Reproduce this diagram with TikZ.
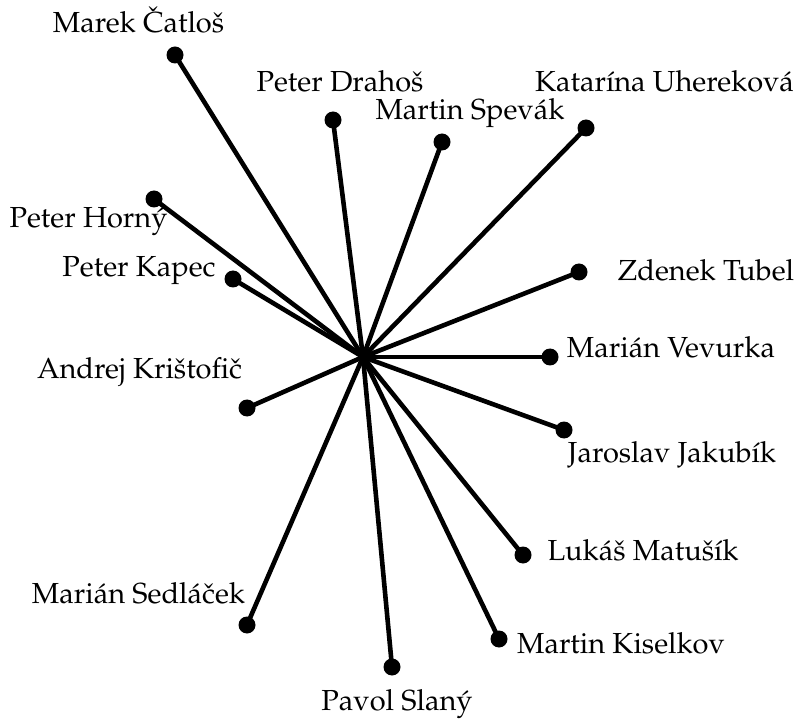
\documentclass[tikz,border=0pt]{standalone}
\usepackage[T1]{fontenc}
\usepackage{mathpazo}
\begin{document}
\begin{tikzpicture}[x=1pt,y=-1pt,
  edge/.style={line width=4.6pt},
  dot/.style={circle,fill=black,inner sep=0pt,minimum size=17pt},
  personlabel/.style={anchor=base,inner sep=0pt,font=\fontsize{29}{33}\selectfont}]
\useasboundingbox (0,0) rectangle (801,719);
\coordinate (c) at (363,357);
% endpoints
\node[dot] (catlos)   at (175,55)  {};
\node[dot] (drahos)   at (333,120) {};
\node[dot] (spevak)   at (442,142) {};
\node[dot] (uherek)   at (586,128) {};
\node[dot] (tubel)    at (579,272) {};
\node[dot] (vevurka)  at (550,357) {};
\node[dot] (jakubik)  at (564,430) {};
\node[dot] (matusik)  at (523,555) {};
\node[dot] (kiselkov) at (499,639) {};
\node[dot] (slany)    at (392,667) {};
\node[dot] (sedlacek) at (247,625) {};
\node[dot] (kristof)  at (247,408) {};
\node[dot] (kapec)    at (233,279) {};
\node[dot] (horny)    at (154,199) {};
% spokes
\foreach \n in {catlos,drahos,spevak,uherek,tubel,vevurka,jakubik,matusik,kiselkov,slany,sedlacek,kristof,kapec,horny}
  \draw[edge] (c) -- (\n.center);
% labels
\node[personlabel] (l1)  at (138.5,33)  {Marek \v{C}atlo\v{s}};
\node[personlabel] (l2)  at (340,92)    {Peter Draho\v{s}};
\node[personlabel] (l3)  at (470,120)   {Martin Spev\'ak};
\node[personlabel] (l4)  at (664.5,92)  {Katar\'{\i}na Uherekov\'a};
\node[personlabel] (l5)  at (706,281)   {Zdenek Tubel};
\node[personlabel] (l6)  at (671,358)   {Mari\'an Vevurka};
\node[personlabel] (l7)  at (672,462)   {Jaroslav Jakub\'{\i}k};
\node[personlabel] (l8)  at (643,560)   {Luk\'a\v{s} Matu\v{s}\'{\i}k};
\node[personlabel] (l9)  at (621,653)   {Martin Kiselkov};
\node[personlabel] (l10) at (397,710)   {Pavol Slan\'y};
\node[personlabel] (l11) at (138.5,603) {Mari\'an Sedl\'a\v{c}ek};
\node[personlabel] (l12) at (139.5,378) {Andrej Kri\v{s}tofi\v{c}};
\node[personlabel] (l13) at (139,277)   {Peter Kapec};
\node[personlabel] (l14) at (88.5,228)  {Peter Horn\'y};
\end{tikzpicture}
\end{document}
